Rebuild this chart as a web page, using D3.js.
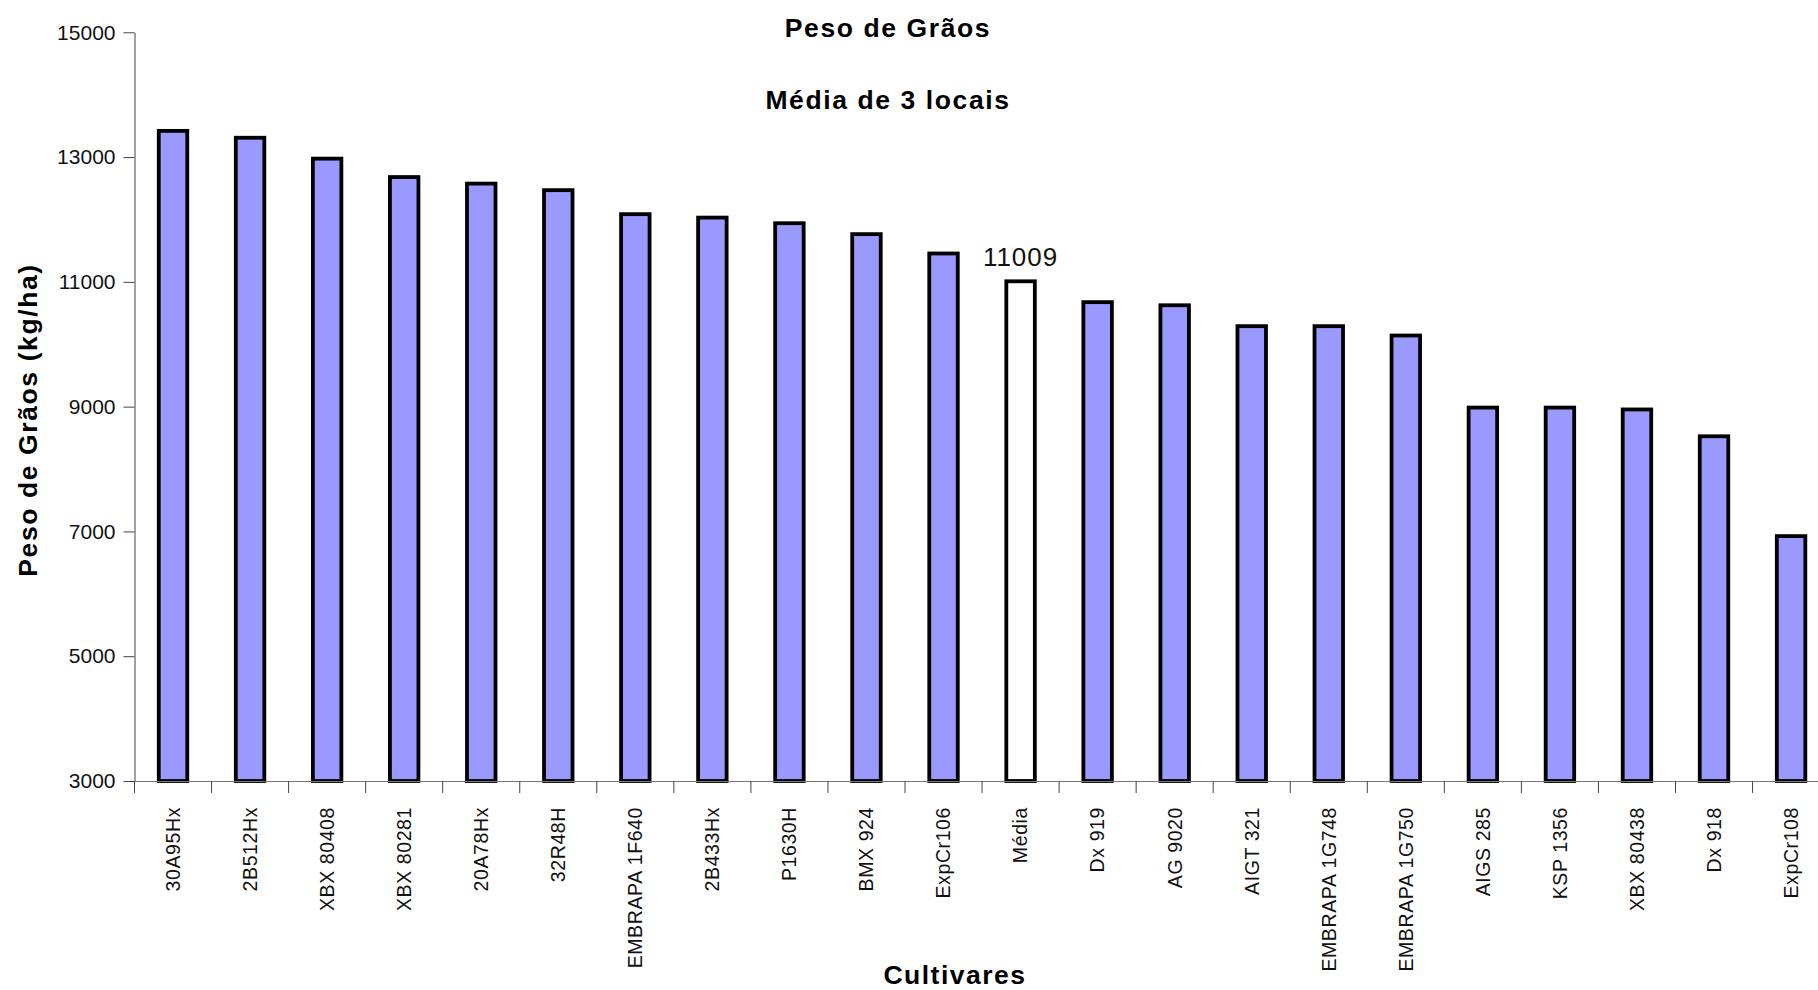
<!DOCTYPE html>
<html>
<head>
<meta charset="utf-8">
<script src="https://cdn.jsdelivr.net/npm/d3@7"></script>
<style>
    body { margin: 0; background: #fff; }
    svg { display: block; font-family: "Liberation Sans", Arial, sans-serif; }
</style>
</head>
<body>
<script>
    // cultivares e peso medio de graos (kg/ha)
    let cultivares = ["30A95Hx", "2B512Hx", "XBX 80408", "XBX 80281", "20A78Hx", "32R48H",
        "EMBRAPA 1F640", "2B433Hx", "P1630H", "BMX 924", "ExpCr106", "Média", "Dx 919",
        "AG 9020", "AIGT 321", "EMBRAPA 1G748", "EMBRAPA 1G750", "AIGS 285", "KSP 1356",
        "XBX 80438", "Dx 918", "ExpCr108"];
    let peso = [13420, 13310, 12975, 12680, 12575, 12470, 12085, 12030, 11940, 11765, 11455,
        11009, 10675, 10625, 10290, 10290, 10140, 8985, 8985, 8955, 8525, 6925];
    let yTicks = [3000, 5000, 7000, 9000, 11000, 13000, 15000];
    let mediaLabel = "11009";

    let width = 1818,
        height = 990,
        plotLeft = 134.5,
        plotTop = 32.3,
        plotBottom = 781,
        step = 77.05;

    let svg = d3.select("body").append("svg")
        .attr("width", width)
        .attr("height", height);

    let x = d3.scaleBand()
        .domain(cultivares)
        .range([plotLeft, plotLeft + step * cultivares.length])
        .paddingInner(0.63)
        .paddingOuter(0.315);

    let y = d3.scaleLinear()
        .domain([3000, 15000])
        .range([plotBottom, plotTop]);

    // eixo y
    let yAxis = svg.append("g")
        .attr("transform", "translate(" + plotLeft + ",0)")
        .call(d3.axisLeft(y).tickValues(yTicks).tickFormat(d3.format("d"))
            .tickSize(11).tickSizeOuter(0).tickPadding(8));
    yAxis.select(".domain").attr("stroke", "#444");
    yAxis.selectAll(".tick line").attr("stroke", "#444");
    yAxis.selectAll("text")
        .attr("fill", "#111")
        .style("font-size", "21px");

    // barras
    svg.selectAll(".bar")
        .data(peso)
        .enter().append("rect")
        .attr("class", "bar")
        .attr("x", function(d, i) { return x(cultivares[i]); })
        .attr("width", x.bandwidth())
        .attr("y", function(d) { return y(d); })
        .attr("height", function(d) { return plotBottom - y(d); })
        .attr("fill", function(d, i) { return cultivares[i] === "Média" ? "#ffffff" : "#9999ff"; })
        .attr("stroke", "#000")
        .attr("stroke-width", 3.8);

    // eixo x
    svg.append("line")
        .attr("x1", plotLeft).attr("x2", width)
        .attr("y1", plotBottom + 0.5).attr("y2", plotBottom + 0.5)
        .attr("stroke", "#777");

    let bounds = d3.range(cultivares.length + 1).map(function(i) { return plotLeft + i * step; });
    svg.selectAll(".xtick")
        .data(bounds)
        .enter().append("line")
        .attr("class", "xtick")
        .attr("x1", function(d) { return d; }).attr("x2", function(d) { return d; })
        .attr("y1", plotBottom).attr("y2", plotBottom + 12)
        .attr("stroke", "#444");

    let xAxis = svg.append("g")
        .attr("transform", "translate(0," + plotBottom + ")")
        .call(d3.axisBottom(x).tickSize(0));
    xAxis.select(".domain").remove();
    xAxis.selectAll("text")
        .attr("transform", "rotate(-90)")
        .attr("x", -26)
        .attr("y", 0)
        .attr("dy", "0.35em")
        .attr("fill", "#111")
        .style("text-anchor", "end")
        .style("font-size", "19.5px")
        .style("letter-spacing", "0.6px");

    // rotulo da media
    let iMedia = cultivares.indexOf("Média");
    svg.append("text")
        .attr("x", x("Média") + x.bandwidth() / 2)
        .attr("y", y(peso[iMedia]) - 15)
        .attr("text-anchor", "middle")
        .style("font-size", "26px")
        .style("letter-spacing", "1px")
        .attr("fill", "#111")
        .text(mediaLabel);

    // titulos
    svg.append("text")
        .attr("x", 888).attr("y", 37.3)
        .attr("text-anchor", "middle")
        .style("font-size", "26.5px").style("font-weight", "bold").style("letter-spacing", "1.6px")
        .text("Peso de Grãos");

    svg.append("text")
        .attr("x", 888).attr("y", 109.3)
        .attr("text-anchor", "middle")
        .style("font-size", "26.5px").style("font-weight", "bold").style("letter-spacing", "1.6px")
        .text("Média de 3 locais");

    svg.append("text")
        .attr("x", 955).attr("y", 984)
        .attr("text-anchor", "middle")
        .style("font-size", "26.5px").style("font-weight", "bold").style("letter-spacing", "1.5px")
        .text("Cultivares");

    svg.append("text")
        .attr("transform", "translate(37.3,420) rotate(-90)")
        .attr("text-anchor", "middle")
        .style("font-size", "26.5px").style("font-weight", "bold").style("letter-spacing", "1.6px")
        .text("Peso de Grãos (kg/ha)");
</script>
</body>
</html>
